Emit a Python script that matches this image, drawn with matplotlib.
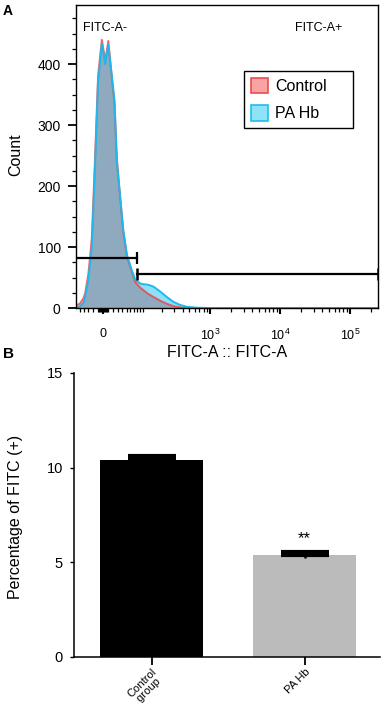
import numpy as np
import matplotlib
matplotlib.use("Agg")
import matplotlib.pyplot as plt
from matplotlib.patches import Patch

plt.rcParams['font.family'] = ['Liberation Sans', 'DejaVu Sans']
plt.rcParams['mathtext.default'] = 'regular'

# Panel A: flow cytometry histogram (FITC-A, counts)
fitc = [-60, -50, -41, -37, -30, -26, -22.5, -16, -10, -2.5, 4, 10, 22.5, 27.5, 35,
        42, 51, 64, 75, 92, 104, 124, 149, 188, 236, 295, 370, 460, 640, 1000, 249000]
count_control = [4, 7, 16, 24, 55, 85, 115, 245, 380, 440, 405, 438, 335, 245, 180,
                 125, 85, 60, 42, 33, 29, 23, 18, 12, 7, 3, 1, 0, 0, 0, 0]
count_pahb = [0, 2, 8, 18, 46, 74, 100, 231, 369, 434, 400, 432, 341, 240, 180,
              128, 87, 62, 46, 40, 39, 38, 35, 27, 18, 10, 5, 2, 0.5, 0, 0]
gate_edges = [-60, 81, 249000]
gate_levels = [82, 56]
gate_names = ['FITC-A-', 'FITC-A+']

# Panel B: percentage of FITC positive cells
groups = ['Control\n group', 'PA Hb']
means = [10.4, 5.4]
errors = [0.2, 0.15]
bar_colors = ['black', '#bbbbbb']


def fwd(v):
    return np.arcsinh(np.asarray(v, dtype=float) / 59.0)


def inv(u):
    return 59.0 * np.sinh(np.asarray(u, dtype=float))


fig = plt.figure(figsize=(3.83, 7.09), dpi=100)
axA = fig.add_axes([76 / 383, 1 - 308 / 709, 302 / 383, 303 / 709])
axB = fig.add_axes([74 / 383, 1 - 657 / 709, 306 / 383, 284 / 709])

# ---- panel A ----
x = np.array(fitc)
c = np.array(count_control)
p = np.array(count_pahb)
axA.set_xscale('function', functions=(fwd, inv))
axA.fill_between(x, 0, c, color='#f7a3a3', lw=0)
axA.fill_between(x, 0, p, color='#8fe0f6', lw=0)
axA.fill_between(x, 0, np.minimum(c, p), color='#8fa9be', lw=0)
axA.plot(x, c, color='#ee4040', lw=1.4, alpha=0.8)
axA.plot(x, p, color='#1eb8ec', lw=1.4)

# gates
axA.plot(gate_edges[:2], [gate_levels[0]] * 2, color='black', lw=1.6)
axA.plot([gate_edges[1]], [gate_levels[0]], marker='|', ms=9, mew=1.6, color='black')
axA.plot(gate_edges[1:], [gate_levels[1]] * 2, color='black', lw=1.6)
axA.plot(gate_edges[1:], [gate_levels[1]] * 2, ls='none', marker='|', ms=9, mew=1.8,
         color='black')

axA.set_xlim(-60, 249000)
axA.set_ylim(0, 497)

axA.set_xticks([0, 1e3, 1e4, 1e5])
axA.set_xticklabels(['0', '$10^3$', '$10^4$', '$10^5$'])
minor = [-50, -40, -30, -20, -10, -8, -6, -4, -2, 2, 4, 6, 8]
minor += list(range(10, 101, 10))
for dec in [100, 1000, 10000]:
    minor += [k * dec for k in range(2, 10)]
minor += [200000]
axA.set_xticks(minor, minor=True)
axA.set_yticks(range(0, 401, 100))
axA.set_yticks(range(0, 476, 25), minor=True)
axA.tick_params(axis='y', which='major', direction='out', length=5.5, width=1.3,
                labelsize=10, pad=5.5)
axA.tick_params(axis='x', which='major', direction='out', length=4.5, width=1.5,
                labelsize=9, pad=10)
axA.tick_params(which='minor', direction='out', length=3, width=0.9)
for s in axA.spines.values():
    s.set_linewidth(1.0)

axA.set_xlabel('FITC-A :: FITC-A', fontsize=11.5, labelpad=1)
axA.set_ylabel('Count', fontsize=11.5)
axA.yaxis.set_label_coords(-0.175, 0.505)

axA.text(0.023, 0.924, gate_names[0], transform=axA.transAxes, fontsize=9,
         va='center', ha='left')
axA.text(0.725, 0.924, gate_names[1], transform=axA.transAxes, fontsize=9,
         va='center', ha='left')

handles = [Patch(facecolor='#f9a3a3', edgecolor='#ef4b4b', lw=1.2, label='Control'),
           Patch(facecolor='#8ee3f7', edgecolor='#23bdf0', lw=1.2, label='PA Hb')]
leg = axA.legend(handles=handles, loc='upper left',
                 bbox_to_anchor=(0.556, 0.587, 0.361, 0.195), mode='expand',
                 borderaxespad=0, fontsize=11.5, handlelength=1.1, handleheight=1.1,
                 handletextpad=0.45, labelspacing=0.72, borderpad=0.42,
                 fancybox=False, framealpha=1, edgecolor='black')
leg.get_frame().set_linewidth(1.0)

fig.text(3 / 383, 1 - 11 / 709, 'A', fontsize=10, fontweight='bold', va='center')

# ---- panel B ----
pos = np.arange(len(groups))
axB.bar(pos, means, width=0.675, color=bar_colors)
# upper whisker with a thick cap, lower whisker without cap
axB.errorbar(pos, means, yerr=[[0] * len(errors), errors], fmt='none', ecolor='black',
             elinewidth=1.5, capsize=17, capthick=3)
axB.errorbar(pos, means, yerr=[errors, [0] * len(errors)], fmt='none', ecolor='black',
             elinewidth=1.8, capsize=0)
axB.text(pos[1], means[1] + errors[1] + 0.45, '**', ha='center', va='baseline',
         fontsize=12)

axB.set_xlim(-0.508, 1.492)
axB.set_ylim(0, 15)
axB.set_yticks([0, 5, 10, 15])
axB.set_xticks(pos)
axB.set_xticklabels(groups, rotation=45, ha='right', va='top', rotation_mode='anchor',
                    multialignment='left', linespacing=1.0, fontsize=8)
axB.tick_params(axis='y', length=3, width=1.0, labelsize=10.5, pad=5)
axB.tick_params(axis='x', length=6, width=1.3, pad=1)
axB.spines['top'].set_visible(False)
axB.spines['right'].set_visible(False)
axB.spines['left'].set_linewidth(1.1)
axB.spines['bottom'].set_linewidth(1.1)
axB.set_ylabel('Percentage of FITC (+)', fontsize=11.5)
axB.yaxis.set_label_coords(-0.167, 0.493)

fig.text(3 / 383, 1 - 354 / 709, 'B', fontsize=11, fontweight='bold', va='center')

fig.savefig('out.png', dpi=100)
